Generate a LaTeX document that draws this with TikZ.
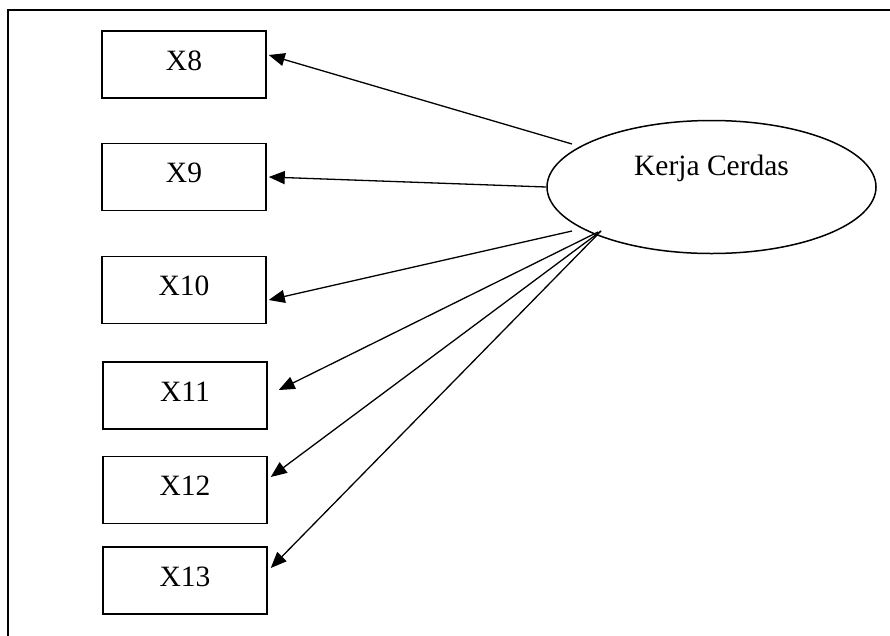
\documentclass[tikz,border=0pt]{standalone}
\usepackage{fontspec}
\setmainfont{Liberation Serif}
\usetikzlibrary{arrows.meta,shapes.geometric}
\tikzset{
  ind/.style={draw, line width=1.5pt, rectangle, inner sep=0pt, minimum width=164pt, minimum height=67pt,
    font=\fontsize{29.5}{30}\selectfont, text height=20pt, text depth=9pt},
  lat/.style={draw, line width=1.5pt, ellipse, inner sep=0pt, minimum width=329pt, minimum height=133pt,
    font=\fontsize{29.5}{30}\selectfont, text height=20pt, text depth=44pt},
  conn/.style={line width=1.3pt, -{Triangle[length=16pt,width=13pt]}},
  frame/.style={line width=1.6pt}
}
\begin{document}
\begin{tikzpicture}[x=1pt,y=-1pt]
\useasboundingbox (0,0) rectangle (890,635);
\coordinate (fa) at (8,645);
\coordinate (fb) at (8,10);
\coordinate (fc) at (900,10);
\draw[frame] (fa) -- (fb) -- (fc);

\node[ind] (b8) at (184,64.5) {X8};
\node[ind] (b9) at (184,177) {X9};
\node[ind] (b10) at (184,290) {X10};
\node[ind] (b11) at (185,395.5) {X11};
\node[ind] (b12) at (185,490) {X12};
\node[ind] (b13) at (185,580.5) {X13};

\node[lat] (k) at (711.5,187) {Kerja Cerdas};

\coordinate (s8) at (572,144);
\coordinate (s10) at (572,231);
\coordinate (s11) at (598,232);
\coordinate (s12) at (601,231);
\coordinate (s13) at (601,231);

\draw[conn] (s8) -- ([xshift=2pt,yshift=9.5pt]b8.east);
\draw[conn] (k.west) -- ([xshift=2pt]b9.east);
\draw[conn] (s10) -- ([xshift=2pt,yshift=-10pt]b10.east);
\draw[conn] (s11) -- ([xshift=11pt,yshift=5.5pt]b11.east);
\draw[conn] (s12) -- ([xshift=3pt,yshift=13pt]b12.east);
\draw[conn] (s13) -- ([xshift=3pt,yshift=12.5pt]b13.east);
\end{tikzpicture}
\end{document}
